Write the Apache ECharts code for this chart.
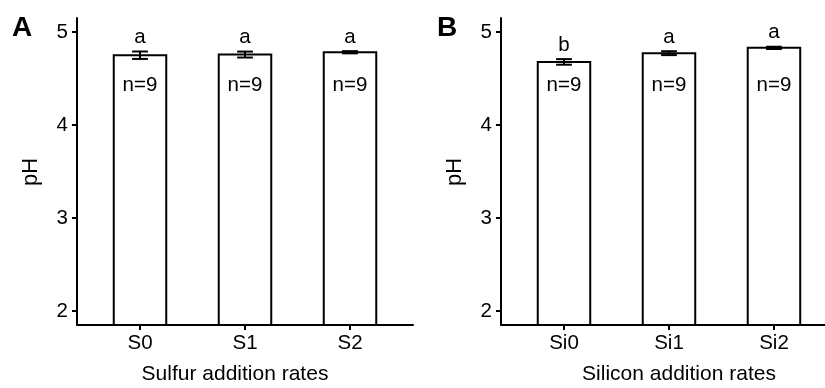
<!DOCTYPE html>
<html>
<head>
<meta charset="utf-8">
<script src="https://cdn.jsdelivr.net/npm/echarts@6/dist/echarts.min.js"></script>
<style>
html,body{margin:0;padding:0;background:#fff;}
#chart{width:825px;height:388px;}
</style>
</head>
<body>
<div id="chart"></div>
<script>
// ---- data ----
const catsA = ['S0', 'S1', 'S2'];
const meanA = [4.75, 4.757, 4.782];
const seA = [0.04, 0.032, 0.012];
const lettersA = ['a', 'a', 'a'];
const nA = ['n=9', 'n=9', 'n=9'];

const catsB = ['Si0', 'Si1', 'Si2'];
const meanB = [4.678, 4.772, 4.829];
const seB = [0.03, 0.021, 0.012];
const lettersB = ['b', 'a', 'a'];
const nB = ['n=9', 'n=9', 'n=9'];

const yTicks = [2, 3, 4, 5];
const panelLabels = ['A', 'B'];
const xTitles = ['Sulfur addition rates', 'Silicon addition rates'];
const yTitle = 'pH';

// ---- layout / style ----
const FONT = 'Liberation Sans, Arial, sans-serif';
const Y_MIN = 1.85, Y_MAX = 5.15;
const X_MIN = 0.4;
const X_MAX = [3.6, 3.486];   // panel B is cut at the right edge of the picture
const BAR_HALF = 0.25, CAP_HALF = 0.075;
const N_LABEL_Y = 4.43;
const grids = [
  {left: 77, top: 18, width: 336, height: 307},
  {left: 501, top: 18, width: 324, height: 307}
];

const chart = echarts.init(document.getElementById('chart'), null, {renderer: 'canvas'});

function xAxisFor(i, cats) {
  return {
    type: 'value', gridIndex: i, min: X_MIN, max: X_MAX[i],
    splitLine: {show: false},
    axisLine: {show: true, onZero: false, lineStyle: {color: '#000', width: 2}},
    axisTick: {show: true, customValues: [1, 2, 3], length: 5, lineStyle: {color: '#000', width: 2}},
    axisLabel: {show: true, customValues: [1, 2, 3], margin: 8, color: '#000',
      fontFamily: FONT, fontSize: 20.5, formatter: v => cats[Math.round(v) - 1] || ''}
  };
}
function yAxisFor(i) {
  return {
    type: 'value', gridIndex: i, min: Y_MIN, max: Y_MAX,
    splitLine: {show: false},
    axisLine: {show: true, lineStyle: {color: '#000', width: 2}},
    axisTick: {show: true, customValues: yTicks, length: 5, lineStyle: {color: '#000', width: 2}},
    axisLabel: {show: true, customValues: yTicks, margin: 9, color: '#000',
      fontFamily: FONT, fontSize: 20.5, formatter: v => String(v)}
  };
}

function barSeries(i, means, ses, letters, ns) {
  const data = means.map((m, k) => [k + 1, m, ses[k]]);
  return {
    type: 'custom', xAxisIndex: i, yAxisIndex: i, data: data, clip: false,
    renderItem: function (params, api) {
      const x = api.value(0), m = api.value(1), se = api.value(2);
      const k = params.dataIndex;
      const tl = api.coord([x - BAR_HALF, m]);
      const br = api.coord([x + BAR_HALF, Y_MIN]);
      const eTop = api.coord([x, m + se]);
      const eBot = api.coord([x, m - se]);
      const cL = api.coord([x - CAP_HALF, m]);
      const cR = api.coord([x + CAP_HALF, m]);
      const nPos = api.coord([x, N_LABEL_Y]);
      return {
        type: 'group',
        children: [
          {type: 'rect', shape: {x: tl[0], y: tl[1], width: br[0] - tl[0], height: br[1] - tl[1]},
            style: {fill: '#fff', stroke: '#000', lineWidth: 2}},
          {type: 'line', shape: {x1: eTop[0], y1: eTop[1], x2: eBot[0], y2: eBot[1]},
            style: {stroke: '#000', lineWidth: 2}},
          {type: 'line', shape: {x1: cL[0], y1: eTop[1], x2: cR[0], y2: eTop[1]},
            style: {stroke: '#000', lineWidth: 2}},
          {type: 'line', shape: {x1: cL[0], y1: eBot[1], x2: cR[0], y2: eBot[1]},
            style: {stroke: '#000', lineWidth: 2}},
          {type: 'text', x: eTop[0], y: eTop[1] - 14,
            style: {text: letters[k], fill: '#000', font: '20.5px ' + FONT, align: 'center', verticalAlign: 'middle'}},
          {type: 'text', x: nPos[0], y: nPos[1],
            style: {text: ns[k], fill: '#000', font: '20.5px ' + FONT, align: 'center', verticalAlign: 'middle'}}
        ]
      };
    }
  };
}

const option = {
  backgroundColor: '#fff',
  animation: false,
  grid: grids.map(g => Object.assign({containLabel: false}, g)),
  xAxis: [xAxisFor(0, catsA), xAxisFor(1, catsB)],
  yAxis: [yAxisFor(0), yAxisFor(1)],
  series: [
    barSeries(0, meanA, seA, lettersA, nA),
    barSeries(1, meanB, seB, lettersB, nB)
  ],
  graphic: [
    {type: 'text', left: 12, top: 14, style: {text: panelLabels[0], font: 'bold 28px ' + FONT, fill: '#000'}},
    {type: 'text', left: 437, top: 14, style: {text: panelLabels[1], font: 'bold 28px ' + FONT, fill: '#000'}},
    {type: 'text', x: 235, y: 374, style: {text: xTitles[0], font: '21px ' + FONT, fill: '#000', align: 'center', verticalAlign: 'middle'}},
    {type: 'text', x: 679, y: 374, style: {text: xTitles[1], font: '21px ' + FONT, fill: '#000', align: 'center', verticalAlign: 'middle'}},
    {type: 'text', x: 31, y: 172, rotation: Math.PI / 2, style: {text: yTitle, font: '22px ' + FONT, fill: '#000', align: 'center', verticalAlign: 'middle'}},
    {type: 'text', x: 455, y: 172, rotation: Math.PI / 2, style: {text: yTitle, font: '22px ' + FONT, fill: '#000', align: 'center', verticalAlign: 'middle'}}
  ]
};
chart.setOption(option);
</script>
</body>
</html>
